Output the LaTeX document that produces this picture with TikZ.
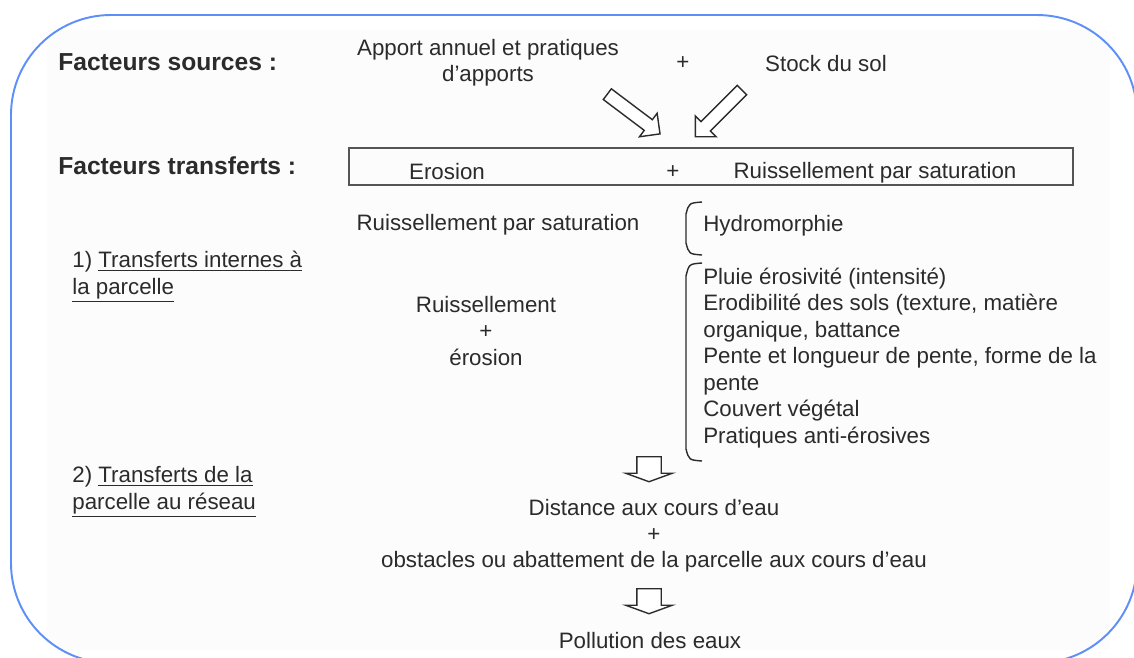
\documentclass[tikz,border=0pt]{standalone}
\usepackage{fontspec}
\setmainfont{Liberation Sans}
\usetikzlibrary{shapes.arrows, positioning}
\definecolor{ink}{HTML}{2B2B2B}
\definecolor{framblue}{HTML}{5E8EF7}

\begin{document}
\begin{tikzpicture}[
    x=0.02cm, y=-0.02cm,
    txt/.style={font=\fontsize{12.7}{15}\selectfont, text=ink, inner sep=0pt, align=center},
    head/.style={txt, font=\fontsize{14}{17}\selectfont\bfseries, anchor=west},
    lst/.style={txt, align=left, anchor=west},
    hollow/.style={single arrow, draw=ink, line width=0.8pt, fill=white, inner xsep=0pt},
    diag/.style={hollow, inner ysep=0.12cm, minimum height=1.32cm, single arrow head extend=0.16cm, single arrow tip angle=90},
    down/.style={hollow, inner ysep=0.23cm, minimum height=0.5cm, single arrow head extend=0.22cm, single arrow tip angle=140, rotate=-90},
    brace/.style={draw=ink, line width=0.8pt},
]
\useasboundingbox (0,0) rectangle (1134,657);
\clip (0,0) rectangle (1134,657);

% paper and outer frame
\fill[black!1] (47,30) rectangle (1110,650);
\draw[framblue, line width=1.1pt, rounded corners=2cm] (11,15) rectangle (1137,663);

% Facteurs sources
\node[head] (src) at (58,62) {Facteurs sources :};
\node[txt] (apport) at (488,63) {Apport annuel et pratiques\\d'apports};
\node[txt] (plus1) at (683,63) {+};
\node[txt] (stock) at (826,64) {Stock du sol};

\node[diag, rotate=-37] (arrA) at (631,112) {};
\node[diag, rotate=225] (arrB) at (721,111) {};

% Facteurs transferts
\node[head] (tra) at (58,166) {Facteurs transferts :};
\node[draw=ink!80, line width=1.1pt, minimum width=14.48cm, minimum height=0.74cm, inner sep=0pt] (transbox) at (711,166.5) {};
\node[txt] (erosion) at (447,172) {Erosion};
\node[txt] (plus2) at (673,172) {+};
\node[txt] (ruisA) at (875,173) {Ruissellement par saturation};

% 1) transferts internes
\node[txt] (ruisB) at (498,225) {Ruissellement par saturation};
\draw[brace] (702,202) .. controls (689,203) .. (686,214) -- (686,243) .. controls (689,254) .. (702,255);
\node[lst] (hydro) at (703,226) {Hydromorphie};

\node[lst] (interne) at (72,277) {1) \underline{Transferts internes à}\\\underline{la parcelle}};
\node[txt, font=\fontsize{12.7}{14.9}\selectfont] (ruiser) at (486,331) {Ruissellement\\+\\érosion};

\draw[brace] (702,263) .. controls (689,264) .. (686,276) -- (686,449) .. controls (689,460) .. (702,461);
\node[lst, font=\fontsize{12.7}{15.1}\selectfont] (facteurs) at (703,358) {Pluie érosivité (intensité)\\
    Erodibilité des sols (texture, matière\\
    organique, battance\\
    Pente et longueur de pente, forme de la\\
    pente\\
    Couvert végétal\\
    Pratiques anti-érosives};

% 2) transferts vers le reseau
\node[down] (arrC) at (649,467) {};
\node[lst] (reseau) at (72,492) {2) \underline{Transferts de la}\\\underline{parcelle au réseau}};
\node[txt, font=\fontsize{12.7}{14.9}\selectfont] (distance) at (654,536) {Distance aux cours d'eau\\+\\obstacles ou abattement de la parcelle aux cours d'eau};

\node[down] (arrD) at (649,599) {};
\node[txt] (pollution) at (650,641) {Pollution des eaux};

\end{tikzpicture}
\end{document}
